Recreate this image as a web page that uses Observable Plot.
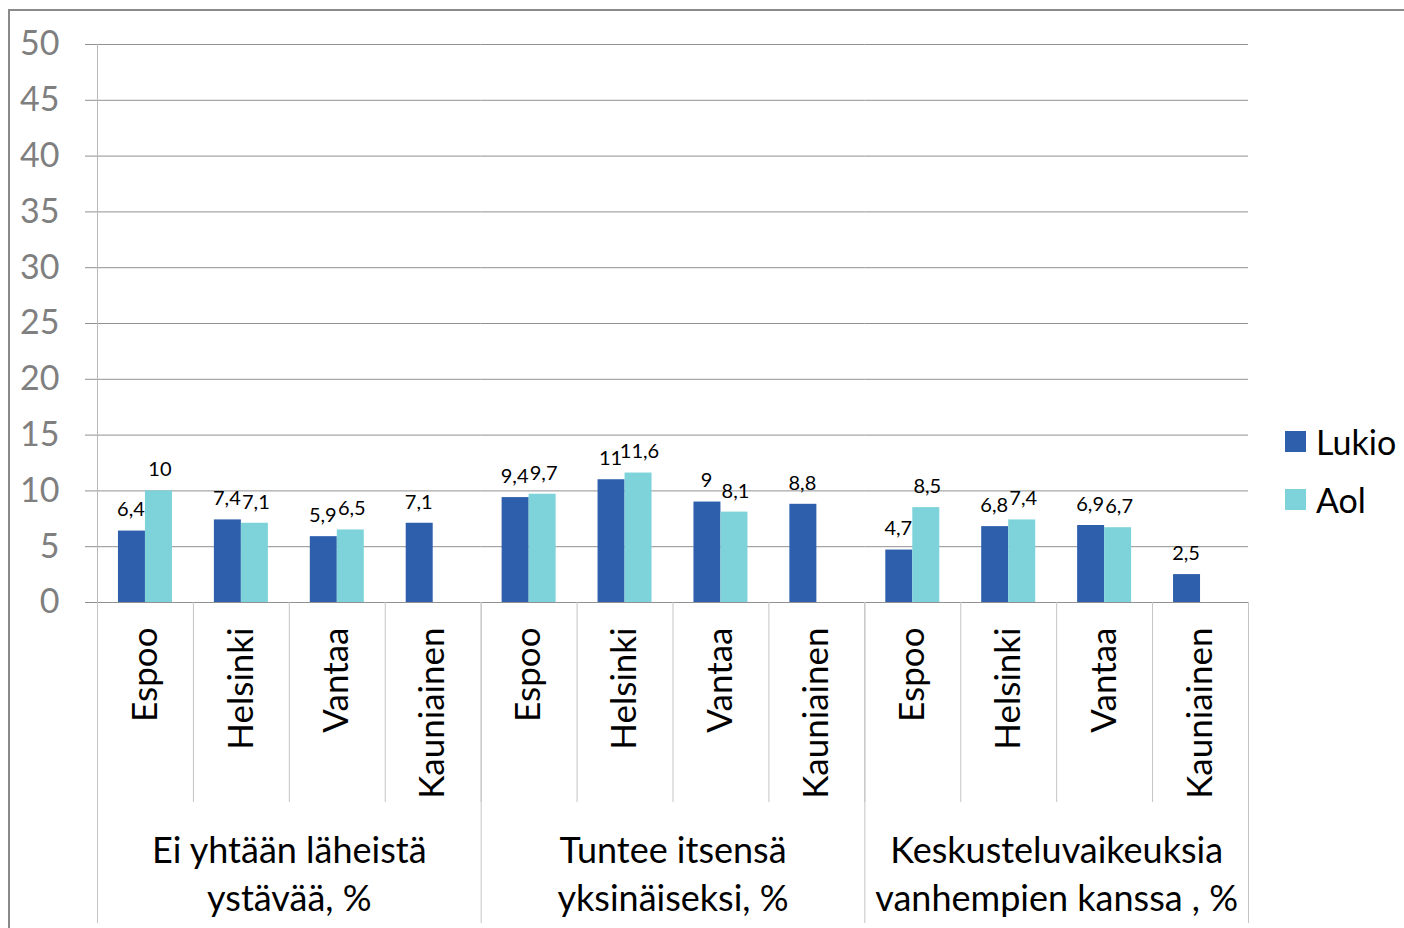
<!DOCTYPE html>
<html><head><meta charset="utf-8">
<script src="https://cdn.jsdelivr.net/npm/d3@7"></script>
<script src="https://cdn.jsdelivr.net/npm/@observablehq/plot@0.6"></script>
<style>
body{margin:0;background:#fff;overflow:hidden;font-family:Lato,sans-serif;}
#wrap{position:relative;width:1404px;height:928px;overflow:hidden;}
#border{position:absolute;left:8px;top:9px;width:1500px;height:1000px;border-left:2px solid #8a8a8a;border-top:2px solid #8a8a8a;}
#chart{position:absolute;left:0;top:0;}
#legend{position:absolute;left:1285px;top:412px;}
.item{display:flex;align-items:center;height:58px;font-size:34px;color:#000;}
.sw{width:21px;height:21px;margin-right:10px;}
</style></head><body><div id="wrap"><div id="border"></div><div id="chart"></div><div id="legend"></div></div>
<script>
const groups = ["Ei yhtään läheistä\nystävää, %", "Tuntee itsensä\nyksinäiseksi, %", "Keskusteluvaikeuksia\nvanhempien kanssa , %"];
const cities = ["Espoo", "Helsinki", "Vantaa", "Kauniainen"];
const series = ["Lukio", "Aol"];
const colors = ["#2E5FAC", "#7DD3D9"];
const lukio = [6.4, 7.4, 5.9, 7.1, 9.4, 11, 9, 8.8, 4.7, 6.8, 6.9, 2.5];
const aol = [10, 7.1, 6.5, null, 9.7, 11.6, 8.1, null, 8.5, 7.4, 6.7, null];
const yTicks = [0, 5, 10, 15, 20, 25, 30, 35, 40, 45, 50];

const rows = [];
groups.forEach((g, gi) => cities.forEach((c, ci) => {
  const k = gi * cities.length + ci;
  rows.push({group: g, city: c, series: "Lukio", value: lukio[k]});
  if (aol[k] != null) rows.push({group: g, city: c, series: "Aol", value: aol[k]});
}));

const W = 1404, H = 928, mL = 97, mR = 156, mT = 44, mB = 326;
const band = (W - mL - mR) / (groups.length * cities.length);
const barW = 27;
const plotH = H - mT - mB;
const fmt = v => String(v).replace(".", ",");
const lk = rows.filter(d => d.series === "Lukio");
const ao = rows.filter(d => d.series === "Aol");

const chart = Plot.plot({
  width: W, height: H, marginLeft: mL, marginRight: mR, marginTop: mT, marginBottom: mB,
  style: {fontFamily: "Lato, sans-serif", background: "transparent"},
  fx: {domain: groups, padding: 0, round: false, label: null},
  x: {domain: cities, padding: 0, round: false, label: null},
  y: {domain: [0, 50], label: null},
  color: {domain: series, range: colors},
  marks: [
    Plot.gridY(yTicks, {stroke: "#919191", strokeOpacity: 1}),
    Plot.axisY(yTicks, {tickSize: 12, tickPadding: 26, fontSize: 34, color: "#7f7f7f", stroke: "#919191", label: null}),
    Plot.frame({anchor: "left", facetAnchor: "left", stroke: "#b8b8b8"}),
    Plot.axisX({tickSize: 0, tickPadding: 25, tickRotate: -90, fontSize: 35, color: "#000", label: null}),
    Plot.axisX({tickSize: 200, tickFormat: () => "", dx: -band / 2, stroke: "#c4c4c4", label: null}),
    Plot.frame({anchor: "left", insetTop: plotH, insetBottom: -320, stroke: "#c4c4c4"}),
    Plot.frame({anchor: "right", insetTop: plotH, insetBottom: -320, facetAnchor: "right", stroke: "#c4c4c4"}),
    Plot.axisFx({anchor: "bottom", tickSize: 0, tickPadding: 226, fontSize: 36, lineHeight: 1.34, color: "#000", label: null}),
    Plot.barY(lk, {fx: "group", x: "city", y: "value", fill: "series", insetLeft: band / 2 - barW, insetRight: band / 2}),
    Plot.barY(ao, {fx: "group", x: "city", y: "value", fill: "series", insetLeft: band / 2, insetRight: band / 2 - barW}),
    Plot.text(lk, {fx: "group", x: "city", y: "value", text: d => fmt(d.value), dx: -barW / 2 - 1, dy: -21, fontSize: 20, fill: "#000"}),
    Plot.text(ao, {fx: "group", x: "city", y: "value", text: d => fmt(d.value), dx: barW / 2 + 1, dy: -21, fontSize: 20, fill: "#000"})
  ]
});
document.getElementById("chart").appendChild(chart);

const legend = document.getElementById("legend");
series.forEach((s, i) => {
  const item = document.createElement("div");
  item.className = "item";
  item.innerHTML = `<span class="sw" style="background:${colors[i]}"></span><span>${s}</span>`;
  legend.appendChild(item);
});
</script>
</body></html>
